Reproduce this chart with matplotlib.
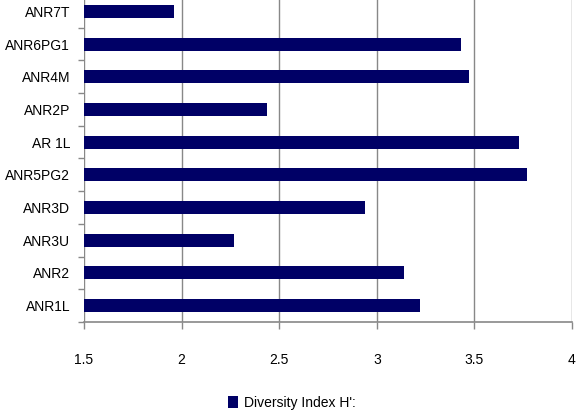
import matplotlib
matplotlib.use("Agg")
import matplotlib.pyplot as plt
import numpy as np

# categories listed bottom to top
sites = ["ANR1L", "ANR2", "ANR3U", "ANR3D", "ANR5PG2",
         "AR 1L", "ANR2P", "ANR4M", "ANR6PG1", "ANR7T"]
diversity = [3.22, 3.14, 2.27, 2.94, 3.77, 3.73, 2.44, 3.47, 3.43, 1.96]
series_name = "Diversity Index H':"

plt.rcParams['font.family'] = ['Liberation Sans', 'DejaVu Sans']

fig = plt.figure(figsize=(5.83, 4.16), dpi=100)
ax = fig.add_axes([84 / 583, 1 - 322 / 416, (572 - 84) / 583, (322 + 5) / 416])

y = np.arange(len(sites))
ax.barh(y, diversity, height=0.4, left=0, color="#000066", label=series_name, zorder=3)

ax.set_xlim(1.5, 4)
ax.set_ylim(-0.5, len(sites) - 0.5)
ax.set_xticks([1.5, 2, 2.5, 3, 3.5, 4])
ax.set_xticklabels(["1.5", "2", "2.5", "3", "3.5", "4"], fontsize=10)
ax.set_yticks(y)
ax.set_yticklabels(sites, fontsize=10)
ax.set_yticks(np.arange(len(sites) + 1) - 0.5, minor=True)
ax.tick_params(axis='y', which='major', length=0, pad=10)
ax.tick_params(axis='y', which='minor', length=4, color="#888888", width=1)
ax.tick_params(axis='x', length=5, color="#888888", width=1, pad=17)

ax.grid(axis='x', color="#888888", linewidth=1, zorder=0)
for s in ["top", "right", "left"]:
    ax.spines[s].set_visible(False)
ax.spines["bottom"].set_color("#888888")
ax.spines["bottom"].set_linewidth(1.2)

fig.legend(loc="center", bbox_to_anchor=(292 / 583, 1 - 403 / 416), frameon=False,
           fontsize=10, handlelength=0.7, handleheight=0.9, handletextpad=0.4)

fig.savefig("out.png", dpi=100)
